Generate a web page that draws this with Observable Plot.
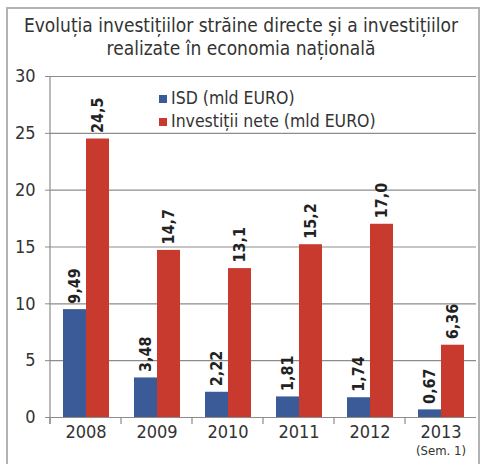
<!DOCTYPE html>
<html><head><meta charset="utf-8">
<script src="https://cdn.jsdelivr.net/npm/d3@7"></script>
<script src="https://cdn.jsdelivr.net/npm/@observablehq/plot@0.6"></script>
<style>
body{margin:0;background:#fff;}
#wrap{position:relative;width:482px;height:464px;overflow:hidden;font-family:"Liberation Sans Narrow","DejaVu Sans Condensed","Arial Narrow",sans-serif;color:#333}
#frame{position:absolute;left:6px;top:7px;width:470px;height:470px;border:2px solid #b3b3b3;}
#title{position:absolute;left:0;top:14px;width:482px;text-align:center;font-size:19px;line-height:23px;color:#333}
#chart{position:absolute;left:0;top:62px}
#legend{position:absolute;left:159px;top:87px;font-size:17.5px;line-height:22.5px;color:#333}
#legend .sw{display:inline-block;width:8px;height:8px;margin-right:4px;vertical-align:1px}
</style></head>
<body>
<div id="wrap">
<div id="frame"></div>
<div id="title">Evoluția investițiilor străine directe și a investițiilor<br>realizate în economia națională</div>
<div id="chart"></div>
<div id="legend"></div>
</div>
<script>
const years = ["2008","2009","2010","2011","2012","2013"];
const yearNotes = ["","","","","","(Sem. 1)"];
const seriesNames = ["ISD (mld EURO)","Investiții nete (mld EURO)"];
const seriesColors = ["#3b5a98","#c8392e"];
const isd = [9.49,3.48,2.22,1.81,1.74,0.67];
const isdLabels = ["9,49","3,48","2,22","1,81","1,74","0,67"];
const inv = [24.5,14.7,13.1,15.2,17.0,6.36];
const invLabels = ["24,5","14,7","13,1","15,2","17,0","6,36"];
const yTicks = [0,5,10,15,20,25,30];

const data = years.flatMap((yr,i)=>[
  {year:yr, series:seriesNames[0], value:isd[i], label:isdLabels[i]},
  {year:yr, series:seriesNames[1], value:inv[i], label:invLabels[i]}
]);
const notes = years.map((yr,i)=>({year:yr, note:yearNotes[i]})).filter(d=>d.note);
const font = '"Liberation Sans Narrow","DejaVu Sans Condensed","Arial Narrow",sans-serif';

const chart = Plot.plot({
  width:482, height:402,
  marginLeft:48, marginRight:5, marginTop:14, marginBottom:47,
  style:{fontFamily:font, color:"#333", background:"transparent", overflow:"visible"},
  fx:{domain:years, padding:0, axis:null},
  x:{domain:seriesNames, paddingInner:0, paddingOuter:0.49, axis:null},
  y:{domain:[0,30], axis:null},
  color:{domain:seriesNames, range:seriesColors},
  marks:[
    Plot.ruleY(yTicks, {stroke:"#8c8c8c", strokeWidth:1.2}),
    Plot.axisY(yTicks, {ticks:yTicks, tickSize:5, tickPadding:10, fontSize:18, stroke:"#8c8c8c", fill:"#333", label:null}),
    Plot.barY(data, {fx:"year", x:"series", y:"value", fill:"series"}),
    Plot.text(data, {fx:"year", x:"series", y:"value", text:"label", rotate:-90, textAnchor:"start", dy:-6, fontWeight:"bold", fontSize:16, fill:"#222"}),
    Plot.text(years, {fx:d=>d, frameAnchor:"bottom", text:d=>d, lineAnchor:"top", dy:8, fontSize:18, fill:"#333"}),
    Plot.text(notes, {fx:"year", frameAnchor:"bottom", text:"note", lineAnchor:"top", dy:28, fontSize:13, fill:"#333"})
  ]
});
document.getElementById("chart").appendChild(chart);

// axis line and band-boundary ticks, positioned from the plot's scales
const fxS = chart.scale("fx"), yS = chart.scale("y");
const svg = d3.select(chart);
const y0 = yS.apply(0), yTop = yS.apply(30);
const xLeft = fxS.apply(years[0]);
svg.append("line").attr("x1",xLeft).attr("x2",xLeft).attr("y1",yTop).attr("y2",y0+7)
  .attr("stroke","#8c8c8c").attr("stroke-width",1.2);
years.forEach(yr=>{
  const xb = fxS.apply(yr);
  svg.append("line").attr("x1",xb).attr("x2",xb).attr("y1",y0).attr("y2",y0+7)
    .attr("stroke","#8c8c8c").attr("stroke-width",1.2);
});

const leg = document.getElementById("legend");
seriesNames.forEach((s,i)=>{
  const row = document.createElement("div");
  row.innerHTML = `<span class="sw" style="background:${seriesColors[i]}"></span>${s}`;
  leg.appendChild(row);
});
</script>
</body></html>
